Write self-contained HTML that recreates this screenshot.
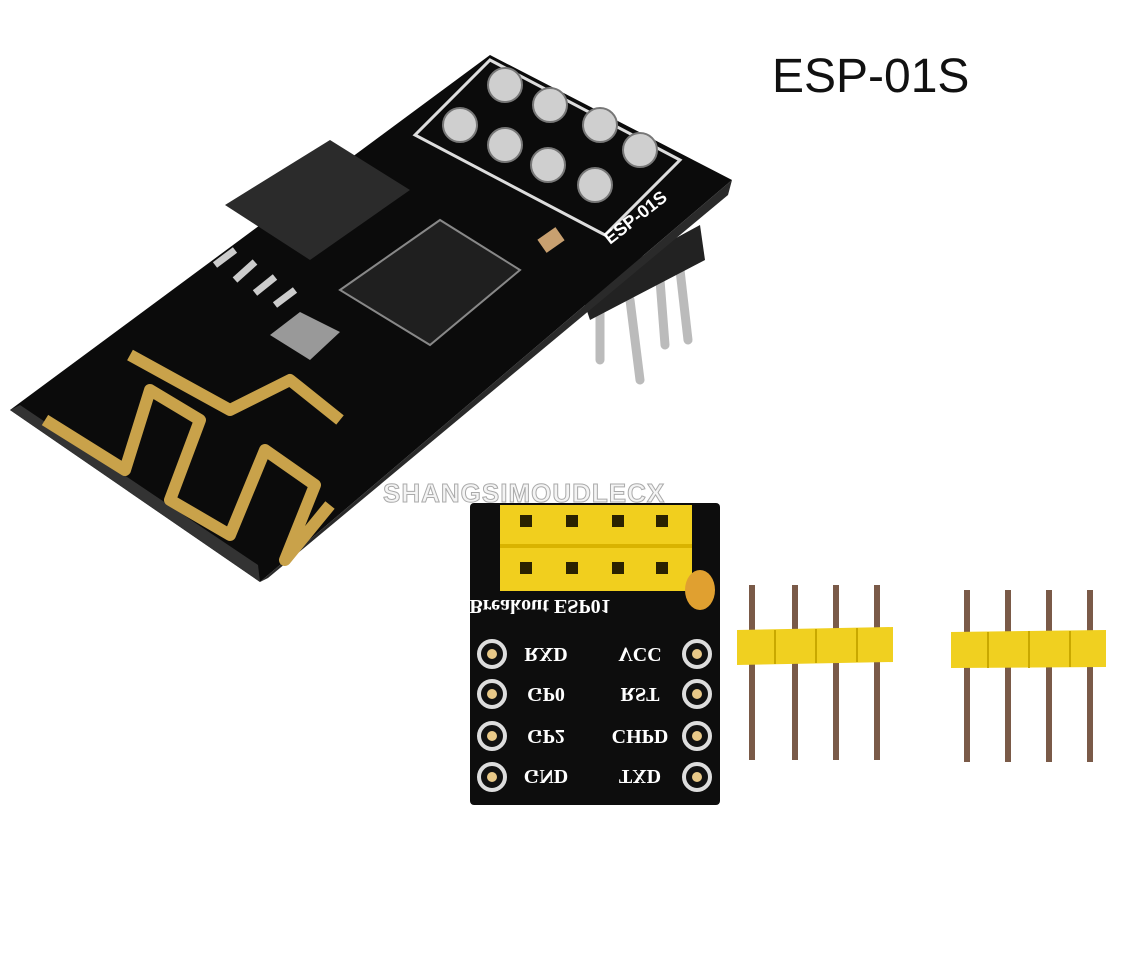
<!DOCTYPE html>
<html><head><meta charset="utf-8"><style>
html,body{margin:0;padding:0;background:#fff;}
svg{display:block}
</style></head><body>
<svg width="1140" height="968" viewBox="0 0 1140 968" xmlns="http://www.w3.org/2000/svg" font-family="Liberation Sans, sans-serif">
<rect width="1140" height="968" fill="#fff"/>
<text x="772" y="92" font-size="48" fill="#111">ESP-01S</text>

<g stroke="#bbb" stroke-width="9" stroke-linecap="round">
<line x1="600" y1="290" x2="600" y2="360"/>
<line x1="630" y1="300" x2="640" y2="380"/>
<line x1="660" y1="280" x2="665" y2="345"/>
<line x1="680" y1="270" x2="688" y2="340"/>
</g>
<polygon points="580,290 700,225 705,260 590,320" fill="#222"/>

<polygon points="10,410 490,55 732,180 260,582" fill="#0b0b0b"/>
<polygon points="10,410 260,582 258,565 20,405" fill="#333"/>
<polygon points="260,582 732,180 728,195 268,578" fill="#2a2a2a"/>
<g stroke="#c9a24a" stroke-width="12" fill="none" stroke-linejoin="round">
<polyline points="45,420 125,470 150,390 200,420 170,500 230,535 265,450 315,485 285,560 330,505"/>
<polyline points="130,355 230,410 290,380 340,420"/>
</g>
<polygon points="225,205 330,140 410,190 310,260" fill="#2b2b2b"/>
<g stroke="#ccc" stroke-width="7"><line x1="215" y1="265" x2="235" y2="250"/><line x1="235" y1="280" x2="255" y2="262"/><line x1="255" y1="293" x2="275" y2="277"/><line x1="275" y1="305" x2="295" y2="290"/></g>
<polygon points="340,290 440,220 520,270 430,345" fill="#1f1f1f" stroke="#888" stroke-width="2"/>
<polygon points="270,335 300,312 340,332 310,360" fill="#999"/>
<polygon points="415,135 490,60 680,160 605,235" fill="none" stroke="#ddd" stroke-width="3"/>
<g fill="#cfcfcf" stroke="#777" stroke-width="2">
<circle cx="505" cy="85" r="17"/><circle cx="550" cy="105" r="17"/><circle cx="600" cy="125" r="17"/><circle cx="640" cy="150" r="17"/>
<circle cx="460" cy="125" r="17"/><circle cx="505" cy="145" r="17"/><circle cx="548" cy="165" r="17"/><circle cx="595" cy="185" r="17"/>
</g>
<rect x="540" y="232" width="22" height="16" fill="#c8a070" transform="rotate(-35 551 240)"/>
<text x="610" y="245" font-size="18" fill="#fff" transform="rotate(-38 610 245)" font-weight="bold">ESP-01S</text>

<text x="383" y="502" font-size="26" font-weight="bold" fill="#f4f4f4" stroke="#aaa" stroke-width="1" letter-spacing="1">SHANGSIMOUDLECX</text>

<rect x="470" y="503" width="250" height="302" rx="4" fill="#0d0d0d"/>
<rect x="500" y="505" width="192" height="86" fill="#f1cf1e"/>
<line x1="500" y1="546" x2="692" y2="546" stroke="#d9b300" stroke-width="4"/>
<g fill="#2b2200">
<rect x="520" y="515" width="12" height="12"/><rect x="566" y="515" width="12" height="12"/><rect x="612" y="515" width="12" height="12"/><rect x="656" y="515" width="12" height="12"/>
<rect x="520" y="562" width="12" height="12"/><rect x="566" y="562" width="12" height="12"/><rect x="612" y="562" width="12" height="12"/><rect x="656" y="562" width="12" height="12"/>
</g>
<ellipse cx="700" cy="590" rx="15" ry="20" fill="#e0a030"/>
<g font-family="Liberation Serif, serif" fill="#fff" font-size="20" font-weight="bold">
<text x="540" y="-600" text-anchor="middle" transform="scale(1 -1)">Breakout ESP01</text>
<text x="546" y="-648" text-anchor="middle" transform="scale(1 -1)">RXD</text>
<text x="546" y="-688" text-anchor="middle" transform="scale(1 -1)">GP0</text>
<text x="546" y="-730" text-anchor="middle" transform="scale(1 -1)">GP2</text>
<text x="546" y="-770" text-anchor="middle" transform="scale(1 -1)">GND</text>
<text x="640" y="-648" text-anchor="middle" transform="scale(1 -1)">VCC</text>
<text x="640" y="-688" text-anchor="middle" transform="scale(1 -1)">RST</text>
<text x="640" y="-730" text-anchor="middle" transform="scale(1 -1)">CHPD</text>
<text x="640" y="-770" text-anchor="middle" transform="scale(1 -1)">TXD</text>
</g>
<g fill="#111" stroke="#ddd" stroke-width="4">
<circle cx="492" cy="654" r="13"/><circle cx="492" cy="694" r="13"/><circle cx="492" cy="736" r="13"/><circle cx="492" cy="777" r="13"/>
<circle cx="697" cy="654" r="13"/><circle cx="697" cy="694" r="13"/><circle cx="697" cy="736" r="13"/><circle cx="697" cy="777" r="13"/>
</g>
<g fill="#e9c988"><circle cx="492" cy="654" r="5"/><circle cx="492" cy="694" r="5"/><circle cx="492" cy="736" r="5"/><circle cx="492" cy="777" r="5"/>
<circle cx="697" cy="654" r="5"/><circle cx="697" cy="694" r="5"/><circle cx="697" cy="736" r="5"/><circle cx="697" cy="777" r="5"/></g>

<g stroke="#7a5a48" stroke-width="6">
<line x1="752" y1="585" x2="752" y2="760"/><line x1="795" y1="585" x2="795" y2="760"/><line x1="836" y1="585" x2="836" y2="760"/><line x1="877" y1="585" x2="877" y2="760"/>
<line x1="967" y1="590" x2="967" y2="762"/><line x1="1008" y1="590" x2="1008" y2="762"/><line x1="1049" y1="590" x2="1049" y2="762"/><line x1="1090" y1="590" x2="1090" y2="762"/>
</g>
<polygon points="737,630 893,627 893,662 737,665" fill="#f0d020"/>
<polygon points="951,632 1106,630 1106,667 951,668" fill="#f0d020"/>
<g stroke="#c9a800" stroke-width="2">
<line x1="775" y1="630" x2="775" y2="664"/><line x1="816" y1="629" x2="816" y2="663"/><line x1="857" y1="628" x2="857" y2="662"/>
<line x1="988" y1="632" x2="988" y2="668"/><line x1="1029" y1="631" x2="1029" y2="668"/><line x1="1070" y1="631" x2="1070" y2="667"/>
</g>
</svg>
</body></html>
